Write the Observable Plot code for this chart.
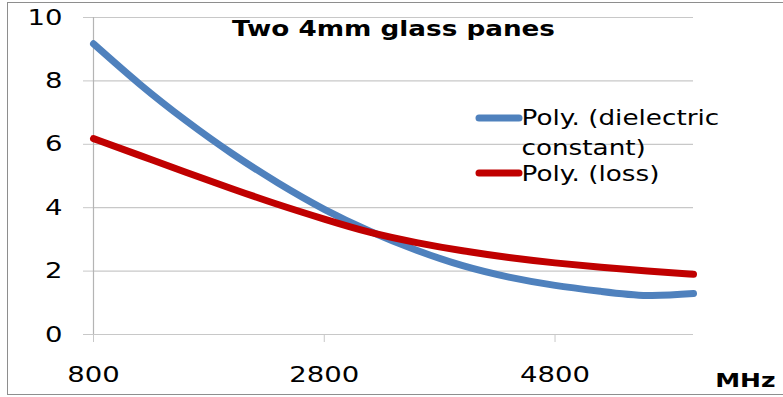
<!DOCTYPE html>
<html><head><meta charset="utf-8">
<script src="https://cdn.jsdelivr.net/npm/d3@7"></script>
<script src="https://cdn.jsdelivr.net/npm/@observablehq/plot@0.6"></script>
<style>
html,body{margin:0;padding:0;background:#fff;overflow:hidden;}
#wrap{position:relative;width:783px;height:397px;}
#frame{position:absolute;left:7px;top:2px;width:800px;height:393px;border:1px solid #8e8e8e;box-sizing:border-box;pointer-events:none;}
#chart{position:absolute;left:0;top:0;}
</style></head><body>
<div id="wrap"><div id="frame"></div><div id="chart"></div></div>
<script>
// ---- data ----
const freqMHz    = [800, 1200, 1600, 2000, 2400, 2800, 3200, 3600, 4000, 4400, 4800, 5200, 5600, 6000];
const dielectric = [9.17, 7.90, 6.75, 5.71, 4.78, 3.95, 3.25, 2.66, 2.17, 1.81, 1.55, 1.36, 1.23, 1.29];
const loss       = [6.18, 5.65, 5.12, 4.60, 4.10, 3.64, 3.22, 2.90, 2.64, 2.43, 2.26, 2.12, 2.00, 1.90];
const xTicks = [800, 2800, 4800];
const yTicks = [0, 2, 4, 6, 8, 10];
const titleText = "Two 4mm glass panes";
const seriesNames = ["Poly. (dielectric\nconstant)", "Poly. (loss)"];
const seriesColors = ["#4f81bd", "#c00000"];
const unitLabel = "MHz";

// ---- layout ----
const W = 783, H = 397;
const mL = 93, mR = 90, mT = 17, mB = 63;
const legFont = 21, legDx = 428;
const swatchDy = [94, 149];     // swatch reference offsets
const textDy = [87, 149];       // legend text offsets
const gridColor = "#c8c8c8";

const dielRows = freqMHz.map((f, i) => ({f, v: dielectric[i]}));
const lossRows = freqMHz.map((f, i) => ({f, v: loss[i]}));

const plot = Plot.plot({
  width: W, height: H,
  marginLeft: mL, marginRight: mR, marginTop: mT, marginBottom: mB,
  style: {fontFamily: "DejaVu Sans", fontSize: "22px", color: "#000", background: "transparent"},
  x: {domain: [800, 6000], ticks: xTicks, tickSize: 8, tickPadding: 24, tickFormat: d => String(d), label: null},
  y: {domain: [0, 10], ticks: yTicks, tickSize: 10, tickPadding: 21, tickFormat: d => String(d), label: null},
  marks: [
    Plot.ruleY(yTicks, {stroke: gridColor, strokeWidth: 1.2}),
    Plot.ruleX([800], {stroke: "#b4b4b4", strokeWidth: 1.2}),
    Plot.line(dielRows, {x: "f", y: "v", stroke: seriesColors[0], strokeWidth: 7, curve: "natural"}),
    Plot.line(lossRows, {x: "f", y: "v", stroke: seriesColors[1], strokeWidth: 7, curve: "natural"}),
    Plot.text([titleText], {text: d => d, frameAnchor: "top", lineAnchor: "top", dy: 4,
      fontWeight: "bold", fontSize: 21, ariaLabel: "title"}),
    Plot.text([seriesNames[0]], {text: d => d, frameAnchor: "top-left", textAnchor: "start", lineAnchor: "top",
      dx: legDx, dy: textDy[0], fontSize: legFont, lineHeight: 1.4, ariaLabel: "legend"}),
    Plot.text([seriesNames[1]], {text: d => d, frameAnchor: "top-left", textAnchor: "start", lineAnchor: "top",
      dx: legDx, dy: textDy[1], fontSize: legFont, ariaLabel: "legend"}),
    Plot.text([unitLabel], {text: d => d, frameAnchor: "bottom-right", textAnchor: "end", lineAnchor: "top",
      dx: 82, dy: 38, fontWeight: "bold", fontSize: 20, ariaLabel: "unit"})
  ]
});
document.getElementById("chart").append(plot);

const svg = d3.select(plot);
// gray axis ticks
svg.selectAll('g[aria-label="y-axis tick"], g[aria-label="x-axis tick"]').attr("stroke", gridColor);
svg.selectAll(".tick line").attr("stroke", gridColor);
svg.selectAll(".domain").remove();

// legend swatches
seriesColors.forEach((c, i) => {
  const x0 = mL + legDx;
  const yb = mT + swatchDy[i] + 0.71 * legFont - 8;
  svg.append("line").attr("x1", x0 - 42).attr("x2", x0 - 2).attr("y1", yb).attr("y2", yb)
    .attr("stroke", c).attr("stroke-width", 7).attr("stroke-linecap", "round");
});

// widen glyphs horizontally (about each text's anchor) to match the stretched reference text
const stretch = {title: 1.46, legend: 1.47, unit: 1.0};
svg.selectAll("text").each(function () {
  const g = this.closest("g[aria-label]");
  const lab = g ? g.getAttribute("aria-label") : "";
  const k = stretch[lab] !== undefined ? stretch[lab] : 1.25;
  if (k === 1) return;
  const bb = this.getBBox();
  const anchor = getComputedStyle(this).textAnchor;
  const ax = anchor === "end" ? bb.x + bb.width : anchor === "middle" ? bb.x + bb.width / 2 : bb.x;
  const prev = this.getAttribute("transform") || "";
  this.setAttribute("transform", `${prev} translate(${ax},0) scale(${k},1) translate(${-ax},0)`);
});
</script>
</body></html>
